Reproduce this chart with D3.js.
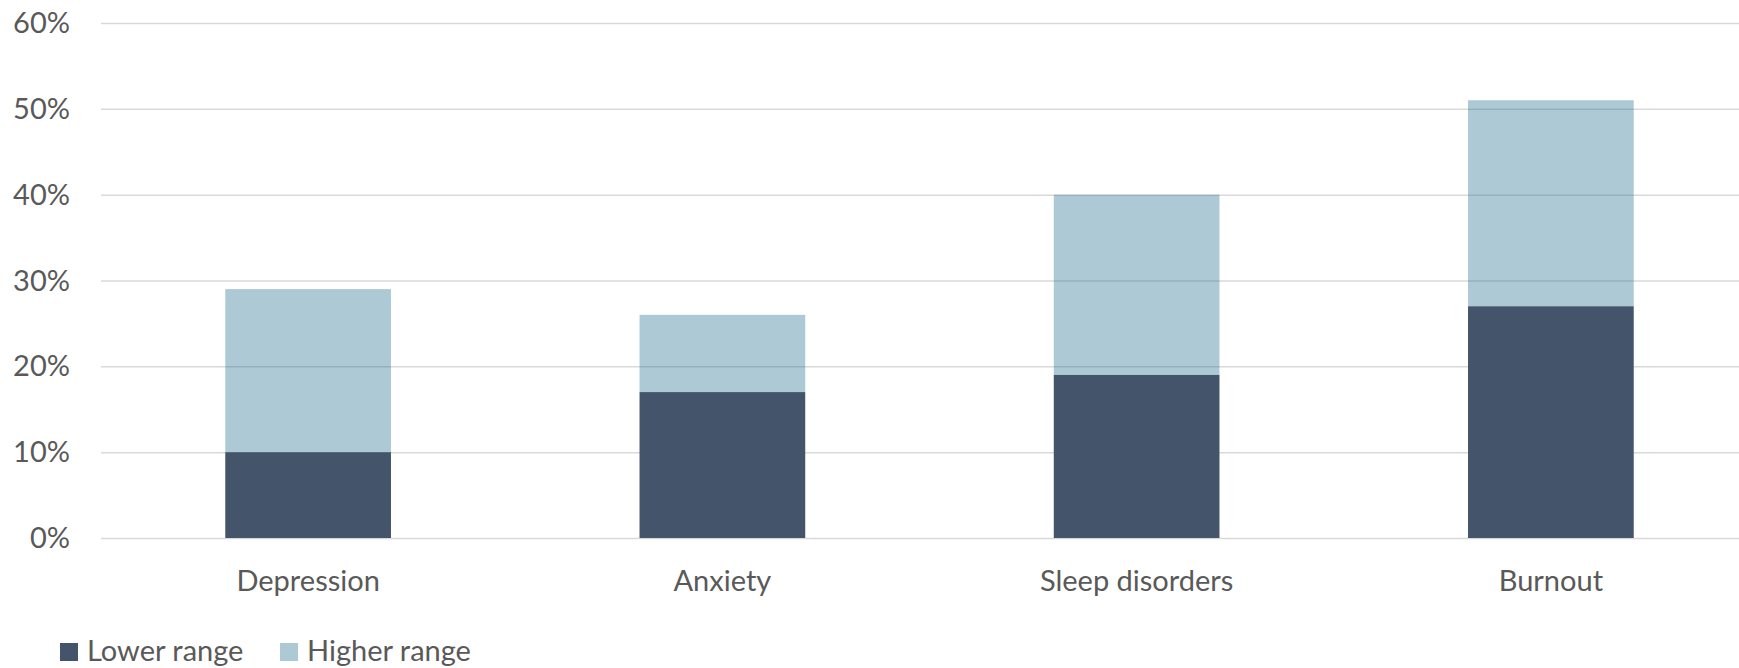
<!DOCTYPE html>
<html>
<head>
<meta charset="utf-8">
<script src="https://cdn.jsdelivr.net/npm/d3@7"></script>
<style>
  html, body { margin: 0; padding: 0; background: #ffffff; }
  svg { display: block; }
  text { font-family: Lato, "Open Sans", sans-serif; fill: #595959; }
</style>
</head>
<body>
<svg id="chart" width="1739" height="668"></svg>
<script>
// Prevalence ranges by condition (share of respondents)
const categories = ["Depression", "Anxiety", "Sleep disorders", "Burnout"];
const lowerRange = [0.10, 0.17, 0.19, 0.27];
const higherRange = [0.29, 0.26, 0.40, 0.51];   // upper end of each range
const yTicks = [0, 0.1, 0.2, 0.3, 0.4, 0.5, 0.6];
const seriesNames = ["Lower range", "Higher range"];

const colors = { lower: "#44546a", higher: "rgb(39,113,147)" };

const svg = d3.select("#chart");
const W = 1739, H = 668;
const margin = { left: 101, right: -19, top: 23, bottom: 130 };

const x = d3.scaleBand()
  .domain(categories)
  .range([margin.left, W - margin.right])
  .paddingInner(0.6)
  .paddingOuter(0.3);

const y = d3.scaleLinear()
  .domain([0, 0.6])
  .range([H - margin.bottom, margin.top]);

// Horizontal gridlines with percent labels
const yAxis = d3.axisLeft(y)
  .tickValues(yTicks)
  .tickFormat(d3.format(".0%"))
  .tickSize(-(W - margin.right - margin.left))
  .tickPadding(31);

const gy = svg.append("g")
  .attr("transform", `translate(${margin.left},0)`)
  .call(yAxis);
gy.select(".domain").remove();
gy.selectAll(".tick line").attr("stroke", "#d9d9d9").attr("stroke-width", 1.5);
gy.selectAll(".tick text")
  .attr("font-size", 29)
  .attr("dy", "0.33em")
  .style("fill", "#595959");

// Stacked bars: lower segment opaque, upper segment translucent
const data = categories.map((c, i) => ({ cat: c, lo: lowerRange[i], hi: higherRange[i] }));

svg.append("g").selectAll("rect")
  .data(data)
  .join("rect")
  .attr("x", d => x(d.cat))
  .attr("width", x.bandwidth())
  .attr("y", d => y(d.lo))
  .attr("height", d => y(0) - y(d.lo))
  .attr("fill", colors.lower);

svg.append("g").selectAll("rect")
  .data(data)
  .join("rect")
  .attr("x", d => x(d.cat))
  .attr("width", x.bandwidth())
  .attr("y", d => y(d.hi))
  .attr("height", d => y(d.lo) - y(d.hi))
  .attr("fill", colors.higher)
  .attr("fill-opacity", 0.38);

// Category labels
const xAxis = d3.axisBottom(x).tickSize(0).tickPadding(0);
const gx = svg.append("g")
  .attr("transform", `translate(0,${y(0)})`)
  .call(xAxis);
gx.select(".domain").remove();
gx.selectAll(".tick text")
  .attr("font-size", 29)
  .attr("y", 53)
  .attr("dy", 0)
  .style("fill", "#595959");

// Legend
const legendItems = [
  { name: seriesNames[0], fill: colors.lower, op: 1, x: 60 },
  { name: seriesNames[1], fill: colors.higher, op: 0.38, x: 280 }
];
const lg = svg.append("g").selectAll("g")
  .data(legendItems)
  .join("g")
  .attr("transform", d => `translate(${d.x},643)`);
lg.append("rect")
  .attr("width", 18).attr("height", 18)
  .attr("fill", d => d.fill)
  .attr("fill-opacity", d => d.op);
lg.append("text")
  .attr("x", 27)
  .attr("y", 18)
  .attr("font-size", 29)
  .text(d => d.name);
</script>
</body>
</html>
